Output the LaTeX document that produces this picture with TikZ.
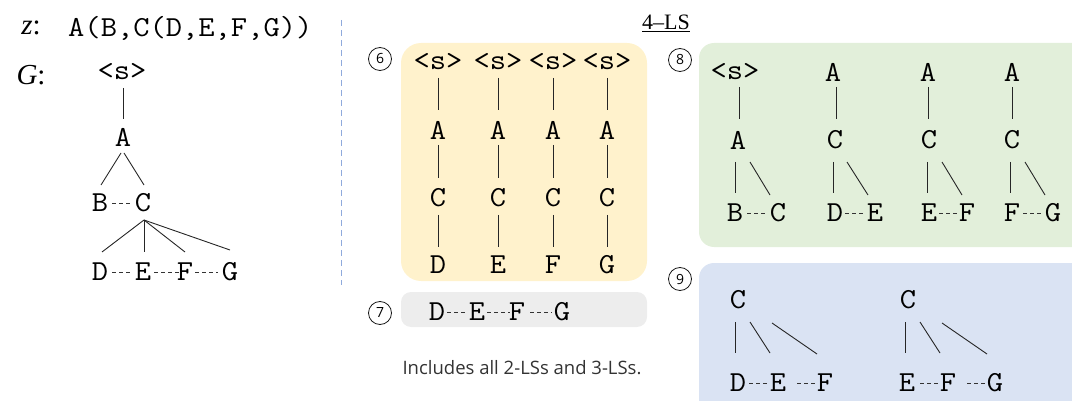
\documentclass[tikz,border=0pt]{standalone}
\usepackage{fontspec}
\usetikzlibrary{calc}
\newfontfamily\serf{Liberation Serif}
\newfontfamily\sanf{Open Sans}
\newcommand\widetxt[1]{\scalebox{1.09}[1]{#1}}
\definecolor{yelbox}{HTML}{FFF2CC}
\definecolor{grnbox}{HTML}{E2EFDA}
\definecolor{blubox}{HTML}{DAE3F3}
\definecolor{grybox}{HTML}{EDEDED}
\definecolor{sepline}{HTML}{8FAADC}
\begin{document}
\begin{tikzpicture}[x=1pt,y=-1pt,
  lt/.style={font=\ttfamily\fontsize{29}{31}\selectfont, inner sep=0pt},
  lbl/.style={font=\serf\fontsize{29}{31}\selectfont, inner sep=0pt},
  edge/.style={draw=black!85, line width=0.9pt},
  dots/.style={draw=black!80, line width=0.7pt, dash pattern=on 3.5pt off 3.5pt},
  num/.style={circle, draw=black!90, line width=0.8pt, minimum size=23pt, inner sep=0pt, font=\sanf\fontsize{14}{14}\selectfont}]
\useasboundingbox (0,0) rectangle (1072,401);

% ---------- panels ----------
\fill[yelbox, rounded corners=20pt] (401,43) rectangle (647,281);
\fill[grybox, rounded corners=10pt] (401,292) rectangle (647,327);
\fill[grnbox, rounded corners=15pt] (699,43) rectangle (1095,247);
\fill[blubox, rounded corners=15pt] (699,263) rectangle (1095,425);

% separator
\coordinate (sepT) at (341,20);
\coordinate (sepB) at (341,285);
\draw[sepline, line width=1pt, dash pattern=on 6pt off 4pt] (sepT) -- (sepB);

% ---------- left part ----------
\node[lbl] (zl) at (31,28) {\itshape z\upshape:};
\node[lt, anchor=west] (zs) at (68,28) {\widetxt{A(B,C(D,E,F,G))}};
\node[lbl] (gl) at (31,75) {\itshape G\upshape:};

\node[lt] (s0) at (122,72) {\widetxt{<s>}};
\node[lt] (a0) at (123,137) {\widetxt{A}};
\node[lt] (b0) at (100,203) {\widetxt{B}};
\node[lt] (c0) at (143,203) {\widetxt{C}};
\node[lt] (d0) at (100,272) {\widetxt{D}};
\node[lt] (e0) at (143,272) {\widetxt{E}};
\node[lt] (f0) at (185,272) {\widetxt{F}};
\node[lt] (g0) at (230,272) {\widetxt{G}};
\draw[edge] ($(s0)+(1,16)$) -- ($(a0)+(0,-18)$);
\draw[edge] ($(a0)+(-2,16)$) -- ($(b0)+(1,-18)$);
\draw[edge] ($(a0)+(1,16)$) -- ($(c0)+(1,-18)$);
\draw[dots] ($(b0)+(12,0)$) -- ($(c0)+(-10,0)$);
\draw[edge] ($(c0)+(1,17)$) -- ($(d0)+(2,-20)$);
\draw[edge] ($(c0)+(1,17)$) -- ($(e0)+(1,-20)$);
\draw[edge] ($(c0)+(1,17)$) -- ($(f0)+(0,-20)$);
\draw[edge] ($(c0)+(1,17)$) -- ($(g0)+(0,-22)$);
\draw[dots] ($(d0)+(12,0)$) -- ($(e0)+(-10,0)$);
\draw[dots] ($(e0)+(11,0)$) -- ($(f0)+(-6,0)$);
\draw[dots] ($(f0)+(10,0)$) -- ($(g0)+(-12,0)$);

% ---------- title ----------
\node[font=\serf\fontsize{22}{23}\selectfont, inner sep=0pt] (title) at (666,23) {\underline{4–LS}};

% ---------- panel 6 ----------
\node[num] (n6) at (380,59) {6};
\foreach \i/\x/\leaf in {1/438/D, 2/498/E, 3/553/F, 4/607/G}{
  \node[lt] (ys\i) at (\x,62) {\widetxt{<s>}};
  \node[lt] (ya\i) at (\x,130) {\widetxt{A}};
  \node[lt] (yc\i) at (\x,198) {\widetxt{C}};
  \node[lt] (yl\i) at (\x,265) {\widetxt{\leaf}};
  \draw[edge] ($(ys\i)+(0,16)$) -- ($(ya\i)+(0,-20)$);
  \draw[edge] ($(ya\i)+(0,15)$) -- ($(yc\i)+(0,-20)$);
  \draw[edge] ($(yc\i)+(0,17)$) -- ($(yl\i)+(0,-18)$);
}

% ---------- panel 7 ----------
\node[num] (n7) at (380,313) {7};
\node[lt] (gd) at (437,312) {\widetxt{D}};
\node[lt] (ge) at (477,312) {\widetxt{E}};
\node[lt] (gf) at (517,312) {\widetxt{F}};
\node[lt] (gg) at (562,312) {\widetxt{G}};
\draw[dots] ($(gd)+(10,0)$) -- ($(ge)+(-10,0)$);
\draw[dots] ($(ge)+(10,0)$) -- ($(gf)+(-7,0)$);
\draw[dots] ($(gf)+(13,0)$) -- ($(gg)+(-10,0)$);
\node[font=\sanf\fontsize{18.5}{19}\selectfont, text=black!80, inner sep=0pt] (note) at (522,368) {Includes all 2-LSs and 3-LSs.};

% ---------- panel 8 ----------
\node[num] (n8) at (680,60) {8};
% tree 1
\node[lt] (p1s) at (735,72) {\widetxt{<s>}};
\node[lt] (p1a) at (738,140) {\widetxt{A}};
\node[lt] (p1b) at (735,213) {\widetxt{B}};
\node[lt] (p1c) at (778,213) {\widetxt{C}};
\draw[edge] ($(p1s)+(4,15)$) -- ($(p1a)+(1,-21)$);
\draw[edge] ($(p1a)+(-3,22)$) -- ($(p1b)+(0,-20)$);
\draw[edge] ($(p1a)+(12,22)$) -- ($(p1c)+(-8,-18)$);
\draw[dots] ($(p1b)+(12,0)$) -- ($(p1c)+(-10,0)$);
% tree 2
\node[lt] (p2a) at (833,72) {\widetxt{A}};
\node[lt] (p2c) at (835,140) {\widetxt{C}};
\node[lt] (p2d) at (835,213) {\widetxt{D}};
\node[lt] (p2e) at (875,213) {\widetxt{E}};
\draw[edge] ($(p2a)+(3,15)$) -- ($(p2c)+(1,-21)$);
\draw[edge] ($(p2c)+(-2,22)$) -- ($(p2d)+(-2,-20)$);
\draw[edge] ($(p2c)+(12,22)$) -- ($(p2e)+(-7,-18)$);
\draw[dots] ($(p2d)+(10,0)$) -- ($(p2e)+(-10,0)$);
% tree 3
\node[lt] (p3a) at (928,72) {\widetxt{A}};
\node[lt] (p3c) at (929,140) {\widetxt{C}};
\node[lt] (p3e) at (929,213) {\widetxt{E}};
\node[lt] (p3f) at (967,213) {\widetxt{F}};
\draw[edge] ($(p3a)+(0,15)$) -- ($(p3c)+(-1,-21)$);
\draw[edge] ($(p3c)+(-2,22)$) -- ($(p3e)+(-2,-20)$);
\draw[edge] ($(p3c)+(13,22)$) -- ($(p3f)+(-5,-18)$);
\draw[dots] ($(p3e)+(10,0)$) -- ($(p3f)+(-9,0)$);
% tree 4
\node[lt] (p4a) at (1012,72) {\widetxt{A}};
\node[lt] (p4c) at (1012,140) {\widetxt{C}};
\node[lt] (p4f) at (1012,213) {\widetxt{F}};
\node[lt] (p4g) at (1053,213) {\widetxt{G}};
\draw[edge] ($(p4a)+(0,15)$) -- ($(p4c)+(0,-21)$);
\draw[edge] ($(p4c)+(-2,22)$) -- ($(p4f)+(-2,-20)$);
\draw[edge] ($(p4c)+(13,22)$) -- ($(p4g)+(-8,-18)$);
\draw[dots] ($(p4f)+(11,0)$) -- ($(p4g)+(-10,0)$);

% ---------- panel 9 ----------
\node[num] (n9) at (680,279) {9};
% tree 1
\node[lt] (q1c) at (738,300) {\widetxt{C}};
\node[lt] (q1d) at (738,383) {\widetxt{D}};
\node[lt] (q1e) at (778,383) {\widetxt{E}};
\node[lt] (q1f) at (825,383) {\widetxt{F}};
\draw[edge] ($(q1c)+(-3,22)$) -- ($(q1d)+(-3,-30)$);
\draw[edge] ($(q1c)+(12,22)$) -- ($(q1e)+(-8,-30)$);
\draw[edge] ($(q1c)+(34,23)$) -- ($(q1f)+(-8,-29)$);
\draw[dots] ($(q1d)+(11,0)$) -- ($(q1e)+(-10,0)$);
\draw[dots] ($(q1e)+(19,0)$) -- ($(q1f)+(-10,0)$);
% tree 2
\node[lt] (q2c) at (908,300) {\widetxt{C}};
\node[lt] (q2e) at (907,383) {\widetxt{E}};
\node[lt] (q2f) at (948,383) {\widetxt{F}};
\node[lt] (q2g) at (995,383) {\widetxt{G}};
\draw[edge] ($(q2c)+(-3,22)$) -- ($(q2e)+(-2,-30)$);
\draw[edge] ($(q2c)+(12,22)$) -- ($(q2f)+(-8,-30)$);
\draw[edge] ($(q2c)+(34,23)$) -- ($(q2g)+(-8,-29)$);
\draw[dots] ($(q2e)+(13,0)$) -- ($(q2f)+(-10,0)$);
\draw[dots] ($(q2f)+(19,0)$) -- ($(q2g)+(-10,0)$);
\end{tikzpicture}
\end{document}
